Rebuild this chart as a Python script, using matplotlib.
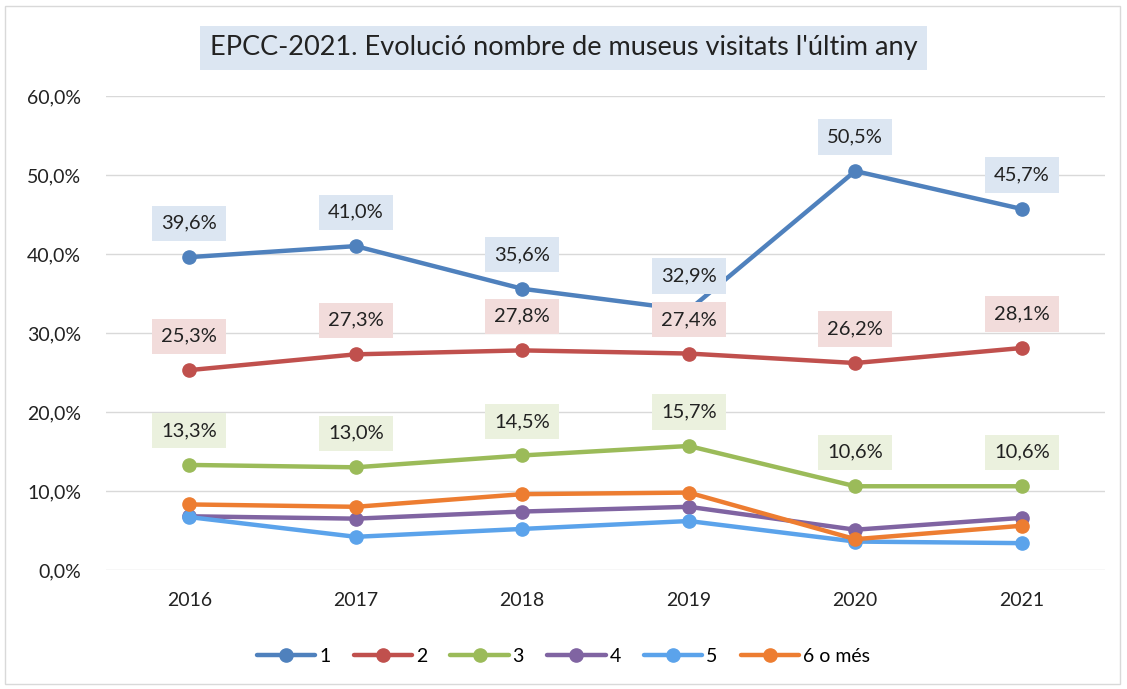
import matplotlib
matplotlib.use("Agg")
import matplotlib.pyplot as plt
from matplotlib.patches import Rectangle

years = ["2016", "2017", "2018", "2019", "2020", "2021"]
s1 = [39.6, 41.0, 35.6, 32.9, 50.5, 45.7]
s2 = [25.3, 27.3, 27.8, 27.4, 26.2, 28.1]
s3 = [13.3, 13.0, 14.5, 15.7, 10.6, 10.6]
s4 = [6.8, 6.5, 7.4, 8.0, 5.1, 6.6]
s5 = [6.7, 4.2, 5.2, 6.2, 3.6, 3.4]
s6 = [8.3, 8.0, 9.6, 9.8, 3.9, 5.6]
names = ["1", "2", "3", "4", "5", "6 o més"]
yticks = [0, 10, 20, 30, 40, 50, 60]

colors = ["#4f81bd", "#c0504d", "#9bbb59", "#8064a2", "#5ba3eb", "#ed7d31"]
label_bg = {0: "#dce6f2", 1: "#f2dcdb", 2: "#ebf1de"}

plt.rcParams['font.family'] = ['Lato', 'DejaVu Sans']

fig = plt.figure(figsize=(11.27, 6.89), dpi=100)
ax = fig.add_axes([106/1127, 1-570/689, (1105-106)/1127, (570-96)/689])

series = [s1, s2, s3, s4, s5, s6]
x = list(range(len(years)))
for i, (s, c, n) in enumerate(zip(series, colors, names)):
    ax.plot(x, s, color=c, lw=3.2, marker='o', ms=9.5, label=n, zorder=3 + i * 0.1,
            solid_capstyle='round')

for i in range(3):
    for xi, v in zip(x, series[i]):
        ax.annotate(f"{v:.1f}%".replace('.', ','), (xi, v), xytext=(0, 24.5),
                    textcoords='offset points', ha='center', va='center',
                    fontsize=14.5, color='#222222', zorder=10,
                    bbox=dict(boxstyle='square,pad=0.45', fc=label_bg[i], ec='none'))

ax.set_xlim(-0.5, 5.5)
ax.set_ylim(0, 60)
ax.set_yticks(yticks)
ax.set_yticklabels([f"{t:.1f}%".replace('.', ',') for t in yticks], fontsize=14, color='#222222')
ax.set_xticks(x)
ax.set_xticklabels(years, fontsize=14, color='#222222')
ax.tick_params(axis='both', length=0)
ax.tick_params(axis='y', pad=18)
ax.tick_params(axis='x', pad=16)
ax.grid(axis='y', color='#d9d9d9', lw=1)
ax.set_axisbelow(True)
for sp in ax.spines.values():
    sp.set_visible(False)

fig.text(0.5, 1-48/689, "EPCC-2021. Evolució nombre de museus visitats l'últim any",
         ha='center', va='center', fontsize=19.5, color='#222222',
         bbox=dict(boxstyle='square,pad=0.35', fc='#dce6f2', ec='none'))

leg = fig.legend(loc='center', bbox_to_anchor=(0.5, 1-656/689), ncol=6, frameon=False,
                 fontsize=14, handlelength=3.0, columnspacing=1.2, handletextpad=0.2)

fig.patches.append(Rectangle((5/1127, 5/689), 1115/1127, 678/689, transform=fig.transFigure,
                             fill=False, ec='#d9d9d9', lw=1))

fig.savefig("out.png", dpi=100)
